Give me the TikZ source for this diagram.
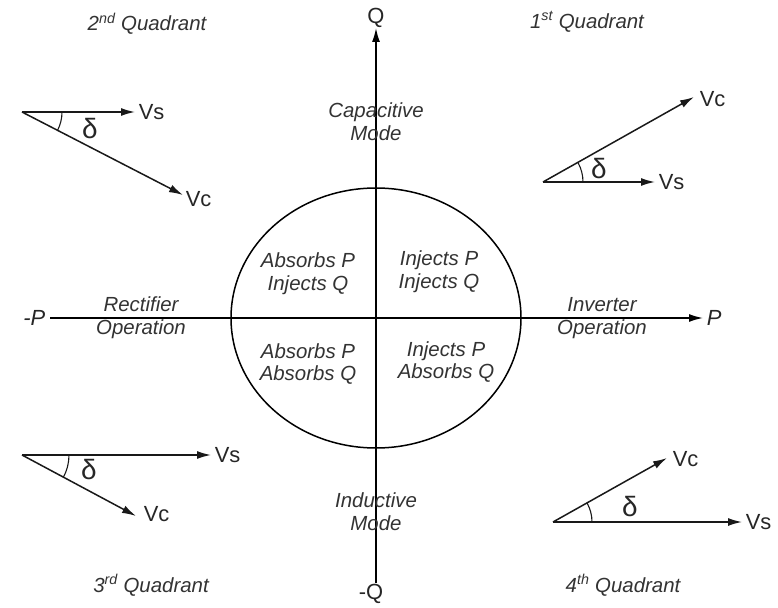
\documentclass[tikz,border=0pt]{standalone}
\usepackage{fontspec}
\setmainfont{Liberation Sans}
\usetikzlibrary{positioning,arrows.meta,calc}

\begin{document}
\begin{tikzpicture}[x=1bp, y=-1bp, >={Latex[length=14bp,width=8bp]},
  font=\fontsize{21}{23}\selectfont, line width=1.5bp,
  lbl/.style={align=center, inner sep=1bp, text=black!80, font=\fontsize{20.5}{23}\selectfont\itshape},
  quad/.style={lbl},
  vlbl/.style={inner sep=1bp, text=black!85, font=\fontsize{22}{24}\selectfont},
  dlbl/.style={inner sep=0bp, text=black!85, font=\fontsize{28}{28}\selectfont},
  vect/.style={->, draw=black!90},
  ang/.style={draw=black!90, line width=1.1bp}]
\useasboundingbox (0,0) rectangle (778,608);
% axes
\coordinate (O) at (376,318);
\coordinate (qtip) at (376,28); \coordinate (mqtip) at (376,583);
\coordinate (ptip) at (703,318); \coordinate (mptip) at (50,318);
\draw[->] (mqtip) -- (qtip);
\draw[->] (mptip) -- (ptip);
\draw (O) ellipse[x radius=145, y radius=130];
\node[vlbl, above=-1bp of qtip] (Q) {Q};
\node[vlbl, below=-1bp of mqtip, xshift=-5bp] (mQ) {-Q};
\node[vlbl, right=2bp of ptip, font=\fontsize{22}{24}\selectfont\itshape] (P) {P};
\node[vlbl, left=3bp of mptip, font=\fontsize{22}{24}\selectfont\itshape] (mP) {-P};
% mode and region labels
\node[lbl] (cap) at (376,122) {Capacitive\\Mode};
\node[lbl] (ind) at (376,512) {Inductive\\Mode};
\node[lbl] (rect) at (141,318) {Rectifier\\Operation};
\node[lbl] (inv) at (602,318) {Inverter\\Operation};
\node[lbl] (r2) at (308,274) {Absorbs P\\Injects Q};
\node[lbl] (r1) at (439,272) {Injects P\\Injects Q};
\node[lbl] (r3) at (308,364) {Absorbs P\\Absorbs Q};
\node[lbl] (r4) at (446,362) {Injects P\\Absorbs Q};
% quadrant titles
\node[quad] (q2) at (147,24) {2\textsuperscript{nd} Quadrant};
\node[quad] (q1) at (587,22) {1\textsuperscript{st} Quadrant};
\node[quad] (q3) at (151,585) {3\textsuperscript{rd} Quadrant};
\node[quad] (q4) at (623,585) {4\textsuperscript{th} Quadrant};
% phasors, 2nd quadrant
\coordinate (o2) at (22,112); \coordinate (s2) at (135,112); \coordinate (c2) at (183,195);
\draw[vect] (o2) -- (s2); \draw[vect] (o2) -- (c2);
\draw[ang] ($(o2)+(40,0)$) arc[start angle=0, end angle=27.3, radius=40];
\node[vlbl, right=2bp of s2] (vs2) {Vs};
\node[vlbl, right=1bp of c2, yshift=-4bp] (vc2) {Vc};
\node[dlbl] (d2) at (90,129) {δ};
% 1st quadrant
\coordinate (o1) at (543,182); \coordinate (s1) at (655,182); \coordinate (c1) at (694,97);
\draw[vect] (o1) -- (s1); \draw[vect] (o1) -- (c1);
\draw[ang] ($(o1)+(40,0)$) arc[start angle=0, end angle=-29.2, radius=40];
\node[vlbl, right=2bp of s1] (vs1) {Vs};
\node[vlbl, right=4bp of c1, yshift=-2bp] (vc1) {Vc};
\node[dlbl] (d1) at (599,169) {δ};
% 3rd quadrant
\coordinate (o3) at (22,455); \coordinate (s3) at (211,455); \coordinate (c3) at (136,516);
\draw[vect] (o3) -- (s3); \draw[vect] (o3) -- (c3);
\draw[ang] ($(o3)+(47,0)$) arc[start angle=0, end angle=28.4, radius=47];
\node[vlbl, right=2bp of s3] (vs3) {Vs};
\node[vlbl, right=6bp of c3, yshift=2bp] (vc3) {Vc};
\node[dlbl] (d3) at (89,470) {δ};
% 4th quadrant
\coordinate (o4) at (553,522); \coordinate (s4) at (742,522); \coordinate (c4) at (667,458);
\draw[vect] (o4) -- (s4); \draw[vect] (o4) -- (c4);
\draw[ang] ($(o4)+(39,0)$) arc[start angle=0, end angle=-29.3, radius=39];
\node[vlbl, right=2bp of s4] (vs4) {Vs};
\node[vlbl, right=4bp of c4, yshift=-1bp] (vc4) {Vc};
\node[dlbl] (d4) at (630,507) {δ};
\end{tikzpicture}
\end{document}
